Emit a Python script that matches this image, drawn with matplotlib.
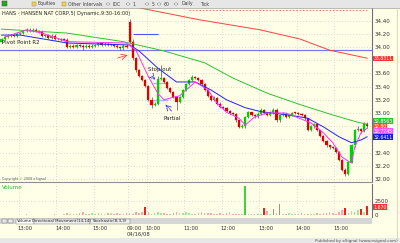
import matplotlib
matplotlib.use("Agg")
import matplotlib.pyplot as plt
from matplotlib.patches import Rectangle
from matplotlib.transforms import blended_transform_factory

# 5-minute bars, day 1 (04/15, from ~12:35) then day 2 (04/16)
open1 = [34.08, 34.12, 34.15, 34.17, 34.18, 34.17, 34.20, 34.21, 34.24, 34.26,
         34.24, 34.26, 34.24, 34.23, 34.17, 34.18, 34.14, 34.17, 34.12, 34.12,
         34.11, 34.11, 34.00, 34.02, 34.00, 34.03, 34.02, 34.00, 34.02,
         34.00, 34.02, 34.03, 34.06, 34.03, 34.05, 34.03, 34.03, 34.02, 34.00,
         33.98, 34.02]
high1 = [34.14, 34.17, 34.19, 34.20, 34.20, 34.22, 34.23, 34.26, 34.28, 34.28,
         34.28, 34.28, 34.26, 34.25, 34.20, 34.20, 34.19, 34.19, 34.14, 34.14,
         34.13, 34.13, 34.04, 34.04, 34.05, 34.05, 34.04, 34.04, 34.04,
         34.04, 34.05, 34.08, 34.08, 34.07, 34.07, 34.05, 34.05, 34.04, 34.02,
         34.04, 34.04]
low1 = [34.06, 34.10, 34.13, 34.15, 34.15, 34.15, 34.18, 34.19, 34.22, 34.22,
        34.22, 34.22, 34.21, 34.15, 34.15, 34.12, 34.12, 34.10, 34.10, 34.09,
        34.09, 33.98, 33.98, 33.98, 33.98, 34.00, 33.96, 33.98, 33.98,
        33.98, 34.00, 34.01, 34.01, 34.01, 34.01, 34.01, 34.00, 33.98, 33.96,
        33.96, 33.98]
close1 = [34.12, 34.15, 34.17, 34.18, 34.17, 34.20, 34.21, 34.24, 34.26, 34.24,
          34.26, 34.24, 34.23, 34.17, 34.18, 34.14, 34.17, 34.12, 34.12, 34.11,
          34.11, 34.00, 34.02, 34.00, 34.03, 34.02, 34.00, 34.02, 34.00,
          34.02, 34.03, 34.06, 34.03, 34.05, 34.03, 34.03, 34.02, 34.00, 33.98,
          34.02, 34.00]

open2 = [34.38, 34.08, 33.83, 33.65, 33.56, 33.50, 33.41, 33.20, 33.12, 33.14,
         33.52, 33.53, 33.47, 33.38, 33.32, 33.24, 33.17, 33.24, 33.35, 33.44,
         33.50, 33.55, 33.53, 33.50, 33.44, 33.35, 33.26, 33.20, 33.23, 33.14,
         33.09, 33.08, 33.03, 33.00, 32.99, 32.89, 32.79, 32.80, 32.94, 33.01,
         32.97, 32.95, 32.99, 33.05, 33.00, 32.97, 33.01, 33.05, 32.89, 32.97,
         32.99, 32.94, 32.97, 33.00, 33.00, 32.99, 32.97, 32.92, 32.74, 32.80,
         32.83, 32.74, 32.65, 32.58, 32.51, 32.48, 32.47, 32.41, 32.29, 32.14,
         32.08, 32.26, 32.51, 32.74, 32.76, 32.73, 32.83]
high2 = [34.42, 34.12, 33.85, 33.67, 33.58, 33.52, 33.43, 33.24, 33.17, 33.56,
         33.73, 33.55, 33.48, 33.40, 33.33, 33.26, 33.26, 33.37, 33.46, 33.52,
         33.58, 33.56, 33.54, 33.51, 33.45, 33.36, 33.28, 33.25, 33.24, 33.16,
         33.10, 33.09, 33.05, 33.02, 33.00, 32.90, 32.83, 32.96, 33.03, 33.02,
         32.99, 33.01, 33.08, 33.06, 33.01, 33.03, 33.07, 33.07, 32.99, 33.01,
         33.00, 32.99, 33.02, 33.02, 33.02, 33.00, 32.98, 32.93, 32.82, 32.85,
         32.84, 32.75, 32.66, 32.59, 32.52, 32.50, 32.48, 32.42, 32.30, 32.16,
         32.28, 32.53, 32.76, 32.80, 32.78, 32.86, 32.86]
low2 = [34.05, 33.80, 33.62, 33.54, 33.48, 33.39, 33.18, 33.08, 33.10, 33.12,
        33.50, 33.45, 33.36, 33.30, 33.22, 33.05, 33.15, 33.22, 33.33, 33.42,
        33.48, 33.51, 33.48, 33.42, 33.33, 33.24, 33.18, 33.18, 33.12, 33.07,
        33.06, 33.01, 32.98, 32.97, 32.87, 32.77, 32.77, 32.78, 32.92, 32.95,
        32.93, 32.93, 32.97, 32.98, 32.95, 32.95, 32.99, 32.87, 32.87, 32.95,
        32.92, 32.92, 32.95, 32.98, 32.97, 32.95, 32.90, 32.72, 32.72, 32.78,
        32.72, 32.63, 32.56, 32.49, 32.46, 32.45, 32.39, 32.27, 32.12, 32.05,
        32.06, 32.24, 32.49, 32.72, 32.70, 32.71, 32.78]
close2 = [34.08, 33.83, 33.65, 33.56, 33.50, 33.41, 33.20, 33.12, 33.14, 33.52,
          33.53, 33.47, 33.38, 33.32, 33.24, 33.17, 33.24, 33.35, 33.44, 33.50,
          33.55, 33.53, 33.50, 33.44, 33.35, 33.26, 33.20, 33.23, 33.14, 33.09,
          33.08, 33.03, 33.00, 32.99, 32.89, 32.79, 32.80, 32.94, 33.01, 32.97,
          32.95, 32.99, 33.05, 33.00, 32.97, 33.01, 33.05, 32.89, 32.97, 32.99,
          32.94, 32.97, 33.00, 33.00, 32.99, 32.97, 32.92, 32.74, 32.80, 32.83,
          32.74, 32.65, 32.58, 32.51, 32.48, 32.47, 32.41, 32.29, 32.14, 32.08,
          32.26, 32.51, 32.74, 32.76, 32.73, 32.83, 32.80]

volume1 = [60, 40, 50, 80, 40, 60, 50, 70, 90, 60, 50, 40, 80, 60, 70, 50, 60, 90, 70, 80,
           150, 300, 200, 120, 250, 400, 450, 200, 150, 300, 180, 350, 200, 250, 400, 300,
           150, 380, 200, 250, 300]
volume2 = [350, 250, 450, 300, 500, 1370, 450, 250, 300, 500, 350, 300,
           250, 200, 400, 500, 420, 350, 600, 300, 200, 150, 350, 450,
           300, 400, 350, 250, 200, 420, 250, 300, 480, 200, 150, 250,
           200, 5180, 150, 250, 150, 100, 200, 1300, 770, 200, 1130, 300,
           1900, 250, 150, 300, 200, 150, 200, 300, 150, 250, 100, 200,
           300, 250, 400, 350, 480, 300, 250, 540, 900, 1190, 400, 650,
           450, 900, 1130, 500, 1670]

# indicator lines (bar index, price)
fast_k = [1, 8, 13, 21, 40, 43, 47, 50, 52, 55, 57, 62, 66, 69, 72, 76, 78, 81, 85, 91,
          99, 103, 106, 109, 112, 113, 115, 117]
fast_p = [34.15, 34.26, 34.21, 34.08, 34.06, 33.95, 33.55, 33.30, 33.20, 33.24, 33.26,
          33.47, 33.35, 33.15, 33.01, 32.92, 32.82, 32.94, 33.00, 33.00, 32.85, 32.70,
          32.55, 32.33, 32.24, 32.48, 32.70, 32.77]
mid_k = [0, 6, 21, 41, 44, 50, 56, 62, 67, 72, 78, 83, 92, 98, 103, 108, 112, 115, 117]
mid_p = [34.18, 34.18, 34.06, 34.03, 33.94, 33.68, 33.47, 33.47, 33.35, 33.20, 33.08,
         33.02, 32.97, 32.92, 32.79, 32.64, 32.55, 32.59, 32.64]
slow_k = [0, 21, 39, 52, 65, 74, 85, 96, 106, 114, 117]
slow_p = [34.27, 34.21, 34.08, 33.94, 33.76, 33.53, 33.30, 33.12, 32.97, 32.86, 32.83]
long_k = [41.1, 44.3, 63.5, 82.7, 95.5, 105.1, 117]
long_p = [34.65, 34.59, 34.41, 34.26, 34.12, 33.95, 33.83]

pivot_r2 = 33.955
price_ticks = [32.0, 32.2, 32.4, 33.0, 33.2, 33.4, 33.6, 34.0, 34.2, 34.4]
hour_bars = [6, 18, 30, 41, 47, 59, 71, 83, 95, 107]
hour_labels = ["13:00", "14:00", "15:00", "09:00", "10:00", "11:00", "12:00",
               "13:00", "14:00", "15:00"]

opens = open1 + open2
highs = high1 + high2
lows = low1 + low2
closes = close1 + close2
volumes = volume1 + volume2
n = len(closes)

W, H = 400, 243
cream = "#ffffe8"
fig = plt.figure(figsize=(4, 2.43), dpi=100, facecolor=cream)


def rect(x0, y0, x1, y1):
    return [x0 / W, 1 - y1 / H, (x1 - x0) / W, (y1 - y0) / H]


def fy(y):
    return 1 - y / H


def band(x0, y0, x1, y1, color):
    fig.patches.append(Rectangle((x0 / W, fy(y1)), (x1 - x0) / W, (y1 - y0) / H,
                                 transform=fig.transFigure, fc=color, ec="none", zorder=0))


xlim = (-0.48, 118.56)

# price panel
ax = fig.add_axes(rect(0, 8, 372, 182))
ax.set_facecolor(cream)
ax.set_xlim(*xlim)
ax.set_ylim(31.955, 34.59)
for lvl in [32.0 + 0.2 * i for i in range(13)]:
    ax.axhline(lvl, color="#b8b8b8", lw=0.5, ls=(0, (1, 3)), zorder=0)
for b in hour_bars:
    ax.axvline(b - 0.5, color="#b8b8b8", lw=0.5, ls=(0, (1, 3)), zorder=0)

ax.axhline(pivot_r2, color="#7878ff", lw=0.9, zorder=1)
ax.hlines(34.56, 60, 117, color="#ff6060", lw=0.6, ls=(0, (2, 2)), zorder=1)
ax.hlines(34.20, 42.0, 50.0, color="#5050ff", lw=0.8, zorder=1)
ax.hlines([33.455, 33.20], 48.5, 53.3, color="#b0b0ff", lw=1.0, zorder=1)

for i in range(n):
    o, h, l, c = opens[i], highs[i], lows[i], closes[i]
    col = "#00d000" if c > o else "#e00000"
    ax.vlines(i, l, h, color="#505050", lw=0.5, zorder=2)
    ax.bar(i, max(abs(c - o), 0.008), bottom=min(o, c), width=0.66,
           color=col, edgecolor=col, lw=0.2, zorder=3)

ax.plot(slow_k, slow_p, color="#30c030", lw=0.7, zorder=4)
ax.plot(mid_k, mid_p, color="#2020ff", lw=0.7, zorder=4)
ax.plot(fast_k, fast_p, color="#ff30ff", lw=0.7, zorder=4)
ax.plot(long_k, long_p, color="#ff4040", lw=0.7, zorder=4)

ax.annotate("", xy=(41.2, 33.89), xytext=(36.3, 33.82),
            arrowprops=dict(arrowstyle="->", color="#ff4040", lw=0.6))
ax.annotate("", xy=(49.8, 33.47), xytext=(47.5, 33.59),
            arrowprops=dict(arrowstyle="->", color="#3030ff", lw=0.6, ls="--"))
ax.annotate("", xy=(51.8, 33.16), xytext=(55.0, 33.00),
            arrowprops=dict(arrowstyle="->", color="#3030ff", lw=0.6, ls="--"))
ax.text(50.7, 33.66, "Stop out", fontsize=4, ha="center", va="center", color="#202020")
ax.text(54.6, 32.91, "Partial", fontsize=4, ha="center", va="center", color="#202020")
ax.text(0.3, 34.06, "Pivot Point R2", fontsize=4, ha="left", va="center", color="#202020")
ax.text(0.3, 34.51, "HANS - HANSEN NAT CORP,5( Dynamic,9:30-16:00)", fontsize=3.6,
        ha="left", va="center", color="#202020")
ax.text(0.3, 32.0, "Copyright \u00a9 2008 eSignal", fontsize=2.4, ha="left",
        va="center", color="#606060")

ax.yaxis.tick_right()
ax.set_yticks(price_ticks)
ax.set_yticklabels([f"{t:.2f}" for t in price_ticks])
ax.tick_params(axis="y", labelsize=4, length=0, pad=2, labelcolor="#303030")
ax.set_xticks([])
for s in ["top", "left"]:
    ax.spines[s].set_visible(False)
ax.spines["right"].set_color("#707070")
ax.spines["right"].set_linewidth(0.8)
ax.spines["bottom"].set_color("#909090")
ax.spines["bottom"].set_linewidth(0.8)

# volume panel
axv = fig.add_axes(rect(0, 184, 372, 217))
axv.set_facecolor(cream)
axv.set_xlim(*xlim)
axv.set_ylim(-357, 5536)
axv.axhline(2500, color="#b8b8b8", lw=0.5, ls=(0, (1, 3)), zorder=0)
for b in hour_bars:
    axv.axvline(b - 0.5, color="#b8b8b8", lw=0.5, ls=(0, (1, 3)), zorder=0)
for i in range(n):
    up = closes[i] >= opens[i]
    if volumes[i] >= 1000:
        vc = "#40d040" if up else "#f02020"
    else:
        vc = "#a0e8a0" if up else "#f8a8a8"
    axv.bar(i, volumes[i], width=0.55, color=vc, zorder=2)
axv.yaxis.tick_right()
axv.set_yticks([0, 2500])
axv.set_yticklabels(["0", "2500"])
axv.tick_params(axis="y", labelsize=4, length=0, pad=2, labelcolor="#303030")
axv.set_xticks([])
for s in ["top", "left", "bottom"]:
    axv.spines[s].set_visible(False)
axv.spines["right"].set_color("#707070")
axv.spines["right"].set_linewidth(0.8)
axv.text(0.3, 5000, "Volume", fontsize=4, color="#30b030", ha="left", va="center")


# value boxes on the right axis
def tag(y, txt, fc, tc="white"):
    fig.text(373.5 / W, fy(y), txt, fontsize=3.3, color=tc, ha="left", va="center",
             bbox=dict(boxstyle="square,pad=0.1", fc=fc, ec="none"), zorder=10)


tag(58.5, "33.8311", "#ff3030")
tag(121.0, "32.8563", "#30c030")
tag(126.2, f"{closes[-1]:.2f}", "#ff5020")
tag(131.4, "32.7745", "#ff50ff")
tag(137.2, "32.6411", "#1818e0")
tag(207.0, f"{volumes[-1]:,}", "#ff3030")

# toolbar, tab strip, footer
band(0, 0, 400, 8, "#e6e6e6")
fig.add_artist(plt.Line2D([0, 1], [fy(8), fy(8)], color="#a0a0a0", lw=0.5))
fig.patches.append(Rectangle((2 / W, fy(6.5)), 5 / W, 5 / H, transform=fig.transFigure,
                             fc="#30a030", ec="#205020", lw=0.3))
for xp, txt in [(38, "Equities"), (68, "Other Intervals"), (113, "IDC"), (132, "1"),
                (152, "5"), (164, "60"), (181, "Daily"), (200, "Tick")]:
    fig.text(xp / W, fy(4), txt, fontsize=3.3, color="#404040", ha="left", va="center")
for xp in [32, 62]:
    fig.patches.append(Rectangle((xp / W, fy(6)), 4 / W, 3.5 / H, transform=fig.transFigure,
                                 fc="#f0d060", ec="#a08020", lw=0.3))
for xp in [108, 128, 147, 159, 176]:
    fig.patches.append(plt.Circle((xp / W, fy(4)), 1.8 / W, transform=fig.transFigure,
                                  fc="white", ec="#606060", lw=0.3))

band(0, 218, 372, 224, "#d6d6d6")
for xp in [2, 8]:
    fig.patches.append(Rectangle((xp / W, fy(223)), 5 / W, 4 / H, transform=fig.transFigure,
                                 fc="#e8e8e8", ec="#606060", lw=0.3))
for x0, x1, txt in [(16, 34, "Volume"), (34, 90, "Directional Movement(14,14)"),
                    (90, 130, "Stochastic(8,3,3)")]:
    fig.patches.append(Rectangle((x0 / W, fy(224)), (x1 - x0) / W, 5.5 / H,
                                 transform=fig.transFigure,
                                 fc="white" if txt == "Volume" else "#ececec",
                                 ec="#707070", lw=0.3))
    fig.text((x0 + x1) / 2 / W, fy(221.2), txt, fontsize=2.9, color="#202020",
             ha="center", va="center")

trans = blended_transform_factory(axv.transData, fig.transFigure)
for b, lab in zip(hour_bars, hour_labels):
    axv.text(b - 0.9, fy(228.5), lab, transform=trans, fontsize=3.8, color="#303030",
             ha="left", va="center")
axv.text(hour_bars[3] - 0.9, fy(234), "04/16/08", transform=trans, fontsize=3.8,
         color="#303030", ha="left", va="center")

band(0, 238, 400, 243, "#e8e8e8")
fig.text(398 / W, fy(240.5), "Published by eSignal (www.esignal.com)", fontsize=3,
         color="#505050", ha="right", va="center")
fig.add_artist(plt.Line2D([397 / W, 397 / W], [fy(8), fy(238)], color="#c8c8c8", lw=0.5))

fig.savefig("out.png", dpi=100, facecolor=cream)
